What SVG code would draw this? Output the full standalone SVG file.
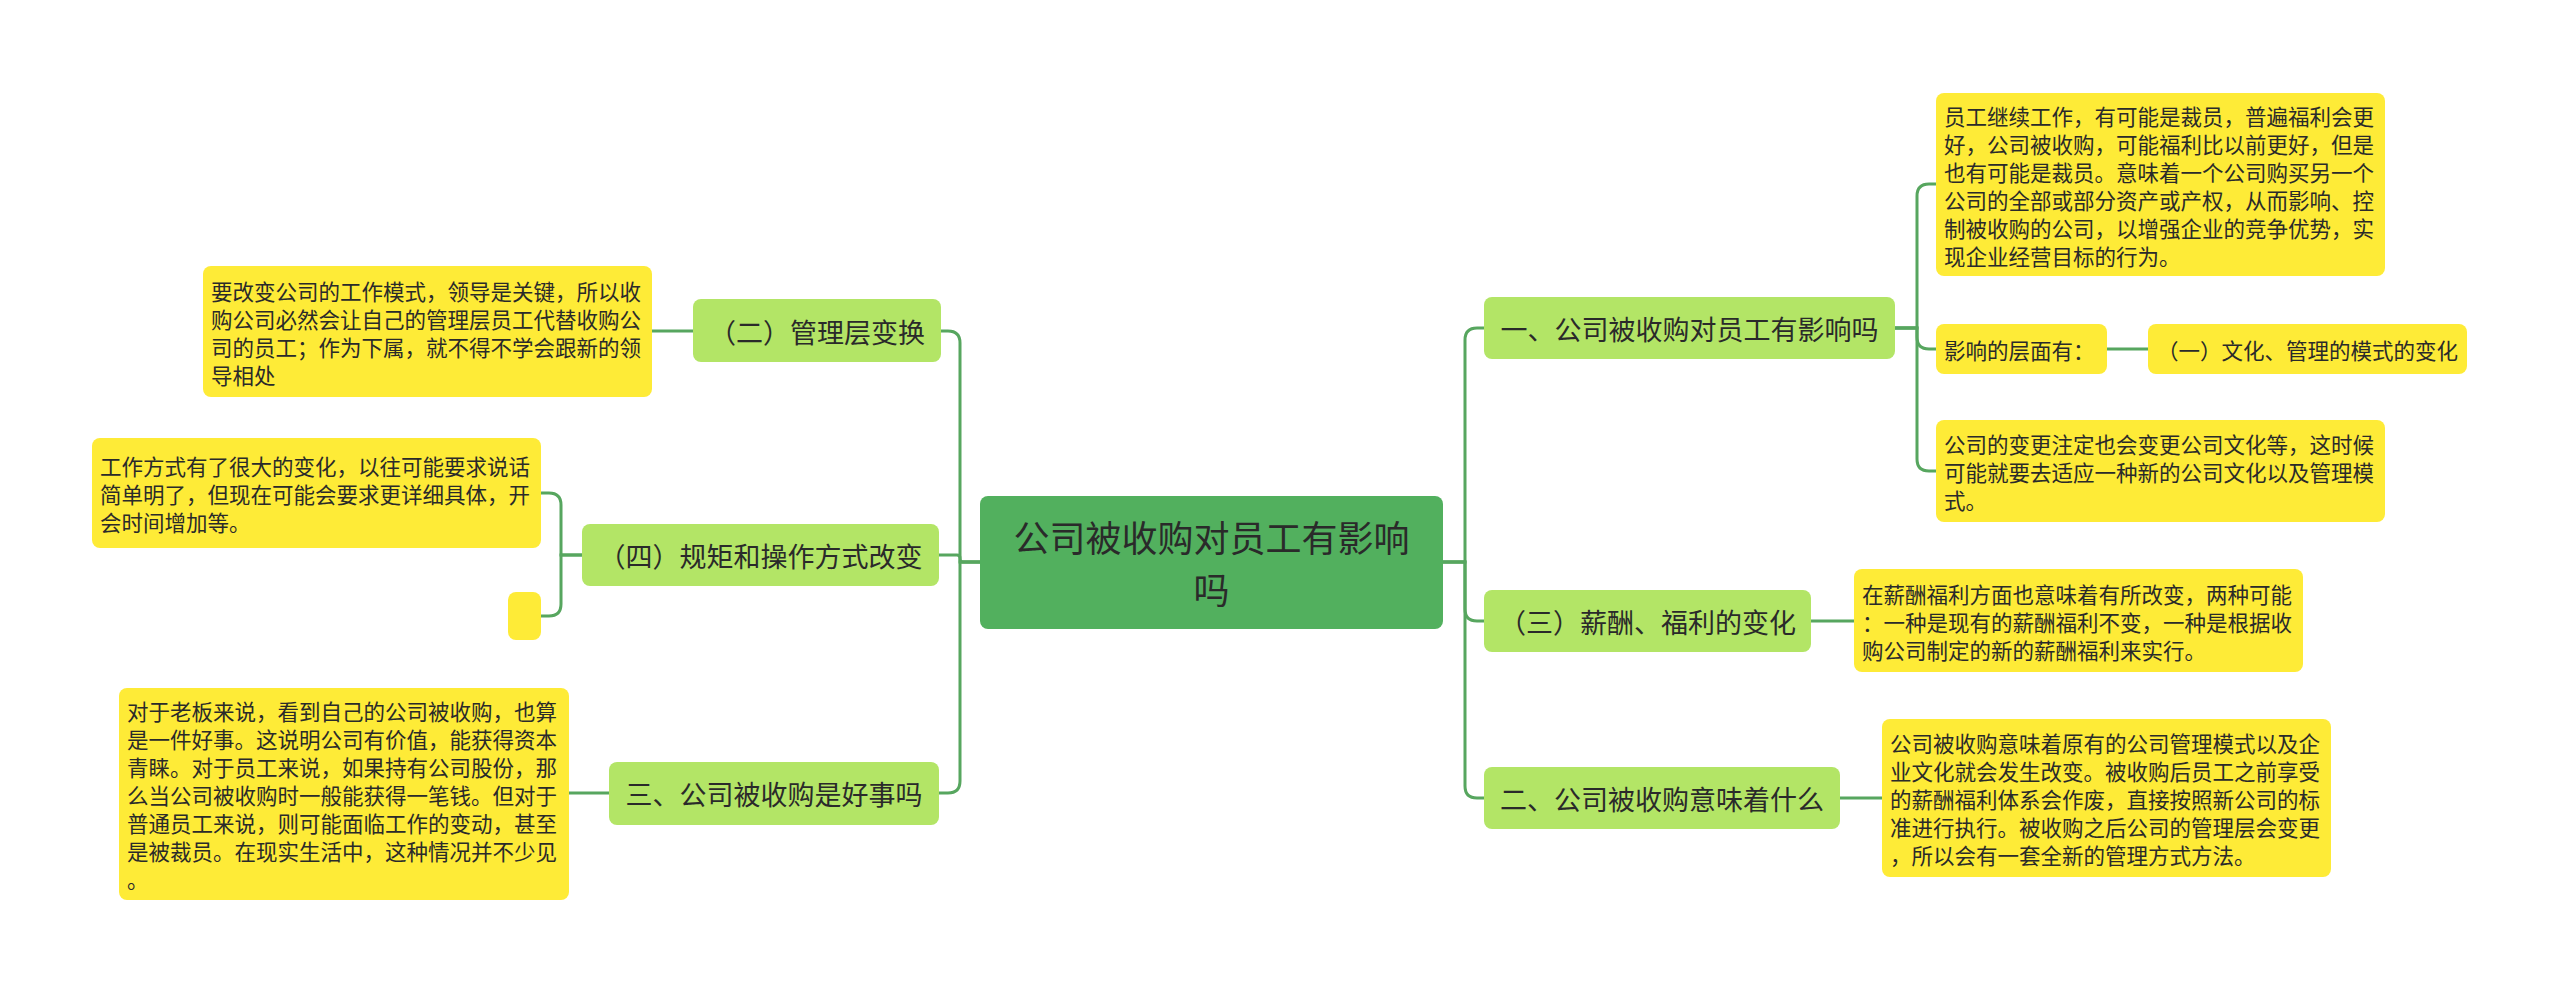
<svg xmlns="http://www.w3.org/2000/svg" width="2560" height="993" viewBox="0 0 2560 993">
<style>
.bg{fill:#ffffff}
.c{fill:none;stroke:#57a65f;stroke-width:3}
.root{fill:#52b05e}
.mid{fill:#b3e566}
.leaf{fill:#feeb37}
text{font-family:"Noto Sans CJK SC","Noto Sans",sans-serif;fill:#2a2a2a;dominant-baseline:central}
.tr{font-size:36px;text-anchor:middle}
.tm{font-size:27px;text-anchor:middle}
.tl{font-size:21.5px}
.tlc{font-size:21.5px;text-anchor:middle}
</style>
<rect class="bg" x="0" y="0" width="2560" height="993"/>
<g id="connectors">
<path class="c" d="M1443 562 H1465 V340 Q1465 328 1477 328 H1484"/>
<path class="c" d="M1443 562 H1465 V609 Q1465 621 1477 621 H1484"/>
<path class="c" d="M1443 562 H1465 V786 Q1465 798 1477 798 H1484"/>
<path class="c" d="M980 562 H960 V343 Q960 331 948 331 H941"/>
<path class="c" d="M980 562 H963 Q960 562 960 559 V558 Q960 555 957 555 H939"/>
<path class="c" d="M980 562 H960 V781 Q960 793 948 793 H939"/>
<path class="c" d="M1895 328 H1917 V196 Q1917 184 1929 184 H1936"/>
<path class="c" d="M1895 328 H1917 V337 Q1917 349 1929 349 H1936"/>
<path class="c" d="M1895 328 H1917 V459 Q1917 471 1929 471 H1936"/>
<path class="c" d="M2107 349 H2148"/>
<path class="c" d="M1811 621 H1854"/>
<path class="c" d="M1840 798 H1882"/>
<path class="c" d="M693 331 H652"/>
<path class="c" d="M582 555 H561 V505 Q561 493 549 493 H541"/>
<path class="c" d="M582 555 H561 V604 Q561 616 549 616 H541"/>
<path class="c" d="M609 793 H569"/>
</g>
<g id="root">
<rect class="root" x="980" y="496" width="463" height="133" rx="8"/>
<text class="tr" x="1211.5" y="536">公司被收购对员工有影响</text>
<text class="tr" x="1211.5" y="588">吗</text>
</g>
<g id="n2">
<rect class="mid" x="693" y="299" width="248" height="63" rx="8"/>
<text class="tm" x="817" y="331">（二）管理层变换</text>
</g>
<g id="n4">
<rect class="mid" x="582" y="524" width="357" height="62" rx="8"/>
<text class="tm" x="760.5" y="555">（四）规矩和操作方式改变</text>
</g>
<g id="n3">
<rect class="mid" x="609" y="762" width="330" height="63" rx="8"/>
<text class="tm" x="774" y="793.5">三、公司被收购是好事吗</text>
</g>
<g id="r1">
<rect class="mid" x="1484" y="297" width="411" height="62" rx="8"/>
<text class="tm" x="1689.5" y="328">一、公司被收购对员工有影响吗</text>
</g>
<g id="r3">
<rect class="mid" x="1484" y="590" width="327" height="62" rx="8"/>
<text class="tm" x="1647.5" y="621">（三）薪酬、福利的变化</text>
</g>
<g id="r2">
<rect class="mid" x="1484" y="767" width="356" height="62" rx="8"/>
<text class="tm" x="1662" y="798">二、公司被收购意味着什么</text>
</g>
<g id="L1">
<rect class="leaf" x="203" y="266" width="449" height="131" rx="8"/>
<text class="tl"><tspan x="211" y="289.5">要改变公司的工作模式，领导是关键，所以收</tspan><tspan x="211" y="317.5">购公司必然会让自己的管理层员工代替收购公</tspan><tspan x="211" y="345.5">司的员工；作为下属，就不得不学会跟新的领</tspan><tspan x="211" y="373.5">导相处</tspan></text>
</g>
<g id="L2">
<rect class="leaf" x="92" y="438" width="449" height="110" rx="8"/>
<text class="tl"><tspan x="100" y="465">工作方式有了很大的变化，以往可能要求说话</tspan><tspan x="100" y="493">简单明了，但现在可能会要求更详细具体，开</tspan><tspan x="100" y="521">会时间增加等。</tspan></text>
</g>
<g id="Ls">
<rect class="leaf" x="508" y="592" width="33" height="48" rx="8"/>
</g>
<g id="L3">
<rect class="leaf" x="119" y="688" width="450" height="212" rx="8"/>
<text class="tl"><tspan x="127" y="710">对于老板来说，看到自己的公司被收购，也算</tspan><tspan x="127" y="738">是一件好事。这说明公司有价值，能获得资本</tspan><tspan x="127" y="766">青睐。对于员工来说，如果持有公司股份，那</tspan><tspan x="127" y="794">么当公司被收购时一般能获得一笔钱。但对于</tspan><tspan x="127" y="822">普通员工来说，则可能面临工作的变动，甚至</tspan><tspan x="127" y="850">是被裁员。在现实生活中，这种情况并不少见</tspan><tspan x="127" y="878">。</tspan></text>
</g>
<g id="LA">
<rect class="leaf" x="1936" y="93" width="449" height="183" rx="8"/>
<text class="tl"><tspan x="1944" y="114.5">员工继续工作，有可能是裁员，普遍福利会更</tspan><tspan x="1944" y="142.5">好，公司被收购，可能福利比以前更好，但是</tspan><tspan x="1944" y="170.5">也有可能是裁员。意味着一个公司购买另一个</tspan><tspan x="1944" y="198.5">公司的全部或部分资产或产权，从而影响、控</tspan><tspan x="1944" y="226.5">制被收购的公司，以增强企业的竞争优势，实</tspan><tspan x="1944" y="254.5">现企业经营目标的行为。</tspan></text>
</g>
<g id="LB1">
<rect class="leaf" x="1936" y="324" width="171" height="50" rx="8"/>
<text class="tl" x="1944" y="349">影响的层面有：</text>
</g>
<g id="LB2">
<rect class="leaf" x="2148" y="324" width="319" height="50" rx="8"/>
<text class="tlc" x="2307.5" y="349">（一）文化、管理的模式的变化</text>
</g>
<g id="LC">
<rect class="leaf" x="1936" y="420" width="449" height="102" rx="8"/>
<text class="tl"><tspan x="1944" y="443">公司的变更注定也会变更公司文化等，这时候</tspan><tspan x="1944" y="471">可能就要去适应一种新的公司文化以及管理模</tspan><tspan x="1944" y="499">式。</tspan></text>
</g>
<g id="LD">
<rect class="leaf" x="1854" y="569" width="449" height="103" rx="8"/>
<text class="tl"><tspan x="1862" y="592.5">在薪酬福利方面也意味着有所改变，两种可能</tspan><tspan x="1862" y="620.5">：一种是现有的薪酬福利不变，一种是根据收</tspan><tspan x="1862" y="648.5">购公司制定的新的薪酬福利来实行。</tspan></text>
</g>
<g id="LE">
<rect class="leaf" x="1882" y="719" width="449" height="158" rx="8"/>
<text class="tl"><tspan x="1890" y="742">公司被收购意味着原有的公司管理模式以及企</tspan><tspan x="1890" y="770">业文化就会发生改变。被收购后员工之前享受</tspan><tspan x="1890" y="798">的薪酬福利体系会作废，直接按照新公司的标</tspan><tspan x="1890" y="826">准进行执行。被收购之后公司的管理层会变更</tspan><tspan x="1890" y="854">，所以会有一套全新的管理方式方法。</tspan></text>
</g>
</svg>
